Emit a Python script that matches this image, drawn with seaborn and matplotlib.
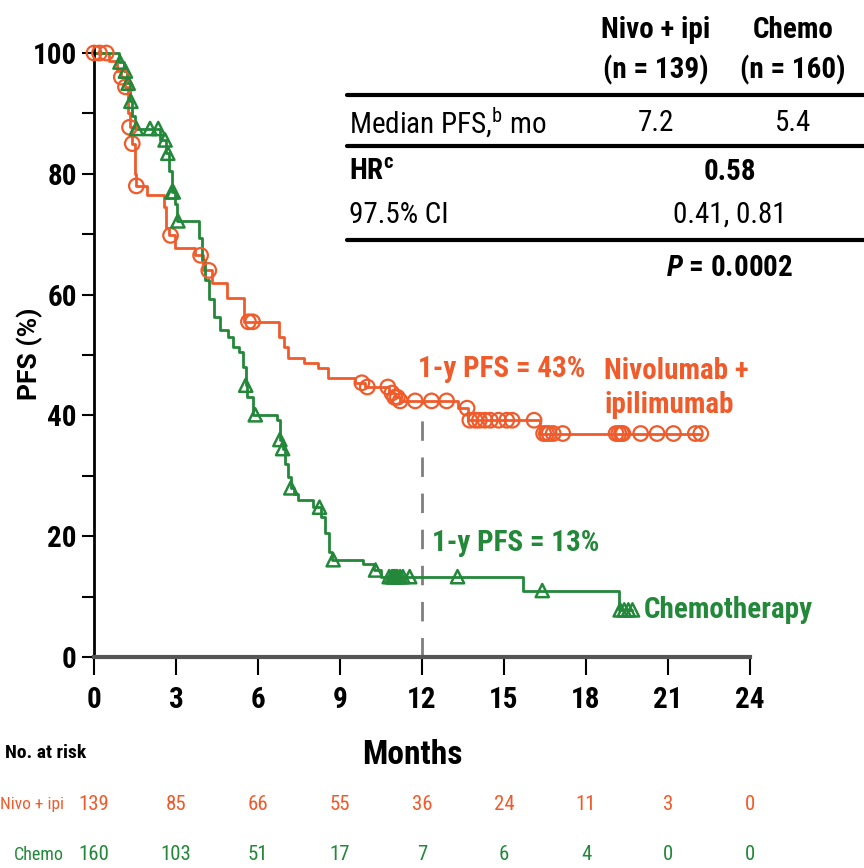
import numpy as np
import pandas as pd
import seaborn as sns
import matplotlib
matplotlib.use('Agg')
import matplotlib.pyplot as plt
from matplotlib.transforms import blended_transform_factory

# Kaplan-Meier step knots (months, PFS %)
nivo_t = [0, 0.55, 0.85, 1.0, 1.15, 1.25, 1.3, 1.4, 1.5, 1.55, 1.95, 2.55, 2.65, 2.75, 2.95,
          3.7, 4.0, 4.3, 4.85, 5.5, 6.75, 6.95, 7.1, 7.7, 8.2, 8.55, 9.55, 9.9, 10.8, 11.0,
          11.2, 13.3, 13.7, 16.3, 22.2]
nivo_s = [100, 98.6, 97, 96, 94.4, 90, 87.7, 85, 80, 78, 76.5, 74.5, 71, 69.8, 67.7,
          66.5, 64, 62, 59.5, 55.5, 53, 51.3, 49.5, 48.7, 47.8, 46.2, 45.4, 44.7, 43.7, 43,
          42.4, 41.2, 39.2, 37, 37]
nivo_cens = [0.0, 0.2, 0.45, 1.0, 1.15, 1.3, 1.4, 1.55, 2.8, 3.9, 4.2, 5.65, 5.8, 9.8, 10.0,
             10.75, 10.9, 11.0, 11.1, 11.2, 11.75, 12.35, 12.9, 13.65, 13.75, 13.95, 14.1,
             14.3, 14.5, 14.8, 15.1, 15.3, 16.1, 16.45, 16.55, 16.65, 16.8, 17.15, 19.1,
             19.2, 19.3, 19.35, 20.0, 20.6, 21.2, 22.0, 22.2]

chemo_t = [0, 0.9, 1.1, 1.2, 1.3, 1.4, 1.5, 2.4, 2.65, 2.75, 2.85, 2.95, 3.05, 3.85, 3.95,
           4.05, 4.2, 4.4, 4.6, 4.9, 5.1, 5.3, 5.45, 5.55, 5.6, 5.8, 6.7, 6.8, 6.9, 7.0, 7.1,
           7.2, 7.3, 7.45, 8.0, 8.3, 8.45, 8.6, 8.7, 9.85, 10.25, 10.5, 15.7, 19.2, 19.7]
chemo_s = [100, 98.5, 97, 95, 92, 89.5, 87.5, 85.6, 83.4, 80.5, 77, 75, 72.2, 69.4, 65.7,
           62.4, 59.3, 56.3, 54.1, 53, 51.3, 50.5, 48, 45, 43, 40.1, 39.2, 36, 34.5, 32, 29.8,
           28, 27, 26, 24.8, 23.2, 20.5, 17.4, 16.1, 15.4, 14.4, 13.3, 11, 7.8, 7.8]
chemo_cens = [0.95, 1.15, 1.25, 1.35, 1.55, 2.05, 2.35, 2.6, 2.7, 2.85, 2.9, 3.07, 5.55, 5.9,
              6.8, 6.9, 7.2, 8.25, 8.75, 10.3, 10.8, 10.9, 10.95, 11.0, 11.05, 11.1, 11.2,
              11.3, 11.55, 13.3, 16.4, 19.25, 19.4, 19.55, 19.7]

risk_months = [0, 3, 6, 9, 12, 15, 18, 21, 24]
risk_nivo = [139, 85, 66, 55, 36, 24, 11, 3, 0]
risk_chemo = [160, 103, 51, 17, 7, 6, 4, 0, 0]

ORANGE = '#EF5B2B'
GREEN = '#23883A'

sns.set_style('ticks')
NARROW = ['Roboto Condensed', 'PT Sans Narrow', 'Archivo Narrow', 'Liberation Sans', 'DejaVu Sans']
plt.rcParams['font.family'] = NARROW
plt.rcParams['text.color'] = 'black'
plt.rcParams['mathtext.fontset'] = 'custom'
plt.rcParams['mathtext.rm'] = 'Roboto Condensed'
plt.rcParams['mathtext.it'] = 'Roboto Condensed:italic:bold'
plt.rcParams['mathtext.bf'] = 'Roboto Condensed:bold'


def step_at(t_knots, s_knots, times):
    idx = np.searchsorted(t_knots, times, side='right') - 1
    return np.array(s_knots)[idx]


W, H = 864, 868
fig = plt.figure(figsize=(W / 100, H / 100), dpi=100)
ax = fig.add_axes([94 / W, 1 - 657 / H, 656 / W, 604 / H])


def fx(x):
    return x / W


def fy(y):
    return 1 - y / H


nivo_df = pd.DataFrame({'t': nivo_t, 's': nivo_s})
chemo_df = pd.DataFrame({'t': chemo_t, 's': chemo_s})
sns.lineplot(data=nivo_df, x='t', y='s', drawstyle='steps-post', estimator=None,
             color=ORANGE, lw=2, ax=ax, clip_on=False)
sns.lineplot(data=chemo_df, x='t', y='s', drawstyle='steps-post', estimator=None,
             color=GREEN, lw=2, ax=ax, clip_on=False)

nc = pd.DataFrame({'t': nivo_cens, 's': step_at(nivo_t, nivo_s, nivo_cens)})
cc = pd.DataFrame({'t': chemo_cens, 's': step_at(chemo_t, chemo_s, chemo_cens)})
sns.scatterplot(data=nc, x='t', y='s', marker='o', s=110, facecolor='none',
                edgecolor=ORANGE, linewidth=1.6, ax=ax, zorder=4, clip_on=False)
sns.scatterplot(data=cc, x='t', y='s', marker='^', s=90, facecolor='none',
                edgecolor=GREEN, linewidth=1.8, ax=ax, zorder=4, clip_on=False)

# 1-year landmark
ax.plot([12, 12], [0, 42.4], color='#7f7f7f', lw=2, dashes=(7, 6), zorder=1)

ax.set_xlim(0, 24)
ax.set_ylim(0, 100)
ax.set_xticks(range(0, 25, 3))
ax.set_yticks(range(0, 101, 20))
ax.set_yticks(range(10, 100, 20), minor=True)
ax.tick_params(axis='both', labelsize=21, width=1.5, length=9, colors='black')
ax.tick_params(axis='y', which='minor', width=1.5, length=9, colors='black')
ax.tick_params(axis='x', length=13, pad=8)
for lab in ax.get_xticklabels() + ax.get_yticklabels():
    lab.set_fontweight('bold')
ax.set_xlabel('')
ax.set_ylabel('')
sns.despine(ax=ax)
ax.spines['left'].set_linewidth(2)
ax.spines['left'].set_color('black')
ax.spines['bottom'].set_linewidth(3)
ax.spines['bottom'].set_color('#555555')
ax.spines['left'].set_bounds(0, 101)

fig.text(fx(30), fy(354), 'PFS (%)', rotation=90, ha='center', va='center',
         fontsize=19, fontweight='bold', family=['Arimo', 'Roboto', 'Liberation Sans', 'DejaVu Sans'])
fig.text(fx(412), fy(755), 'Months', ha='center', va='center', fontsize=24, fontweight='bold')

# curve annotations
fig.text(fx(418), fy(369), '1-y PFS = 43%', color=ORANGE, fontsize=21, fontweight='bold',
         va='center', ha='left')
fig.text(fx(604), fy(388), 'Nivolumab +\nipilimumab', color=ORANGE, fontsize=21,
         fontweight='bold', va='center', ha='left', linespacing=1.25)
fig.text(fx(432), fy(543), '1-y PFS = 13%', color=GREEN, fontsize=21, fontweight='bold',
         va='center', ha='left')
fig.text(fx(644), fy(610), 'Chemotherapy', color=GREEN, fontsize=21, fontweight='bold',
         va='center', ha='left')

# summary table
for yy in (95, 146, 240):
    fig.add_artist(plt.Line2D([fx(347), fx(864)], [fy(yy), fy(yy)], color='black', lw=3))
fig.text(fx(656), fy(30), 'Nivo + ipi', ha='center', va='center', fontsize=21, fontweight='bold')
fig.text(fx(656), fy(70), '(n = 139)', ha='center', va='center', fontsize=21, fontweight='bold')
fig.text(fx(793), fy(30), 'Chemo', ha='center', va='center', fontsize=21, fontweight='bold')
fig.text(fx(793), fy(70), '(n = 160)', ha='center', va='center', fontsize=21, fontweight='bold')
fig.text(fx(349), fy(123), r'Median PFS,$^{\mathrm{b}}$ mo', ha='left', va='center', fontsize=21)
fig.text(fx(656), fy(123), '7.2', ha='center', va='center', fontsize=21)
fig.text(fx(793), fy(123), '5.4', ha='center', va='center', fontsize=21)
fig.text(fx(349), fy(172), r'HR$^{\mathbf{c}}$', ha='left', va='center', fontsize=21, fontweight='bold')
fig.text(fx(730), fy(172), '0.58', ha='center', va='center', fontsize=21, fontweight='bold')
fig.text(fx(349), fy(215), '97.5% CI', ha='left', va='center', fontsize=21)
fig.text(fx(730), fy(215), '0.41, 0.81', ha='center', va='center', fontsize=21)
fig.text(fx(730), fy(268), r'$P$ = 0.0002', ha='center', va='center', fontsize=21, fontweight='bold')

# number at risk
tr = blended_transform_factory(ax.transData, fig.transFigure)
fig.text(fx(5), fy(753), 'No. at risk', ha='left', va='center', fontsize=14, fontweight='bold')
fig.text(fx(64), fy(805), 'Nivo + ipi', ha='right', va='center', fontsize=12.5, color=ORANGE)
fig.text(fx(64), fy(855), 'Chemo', ha='right', va='center', fontsize=13, color=GREEN)
for m, a, b in zip(risk_months, risk_nivo, risk_chemo):
    ax.text(m, fy(805), str(a), transform=tr, ha='center', va='center', fontsize=15,
            color=ORANGE, clip_on=False)
    ax.text(m, fy(855), str(b), transform=tr, ha='center', va='center', fontsize=15,
            color=GREEN, clip_on=False)

fig.savefig('out.png', dpi=100)
